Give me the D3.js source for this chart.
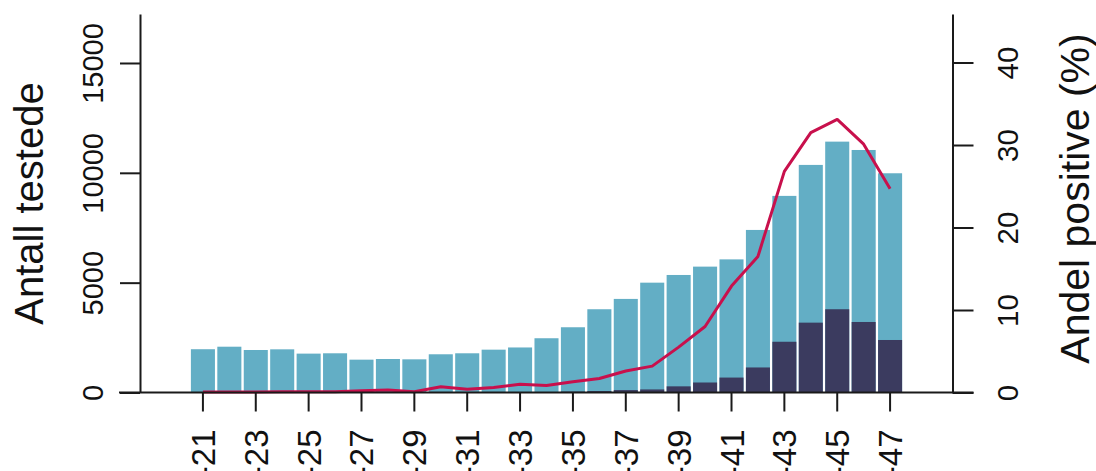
<!DOCTYPE html>
<html>
<head>
<meta charset="utf-8">
<script src="https://cdn.jsdelivr.net/npm/d3@7"></script>
<style>
  html, body { margin: 0; padding: 0; background: #ffffff; }
  svg { display: block; }
  text { font-family: "Liberation Sans", Arial, sans-serif; fill: #111; }
</style>
</head>
<body>
<svg id="chart" width="1096" height="471"></svg>
<script>
// Weekly test counts, positives and share positive
const weeks = [21, 22, 23, 24, 25, 26, 27, 28, 29, 30, 31, 32, 33, 34, 35, 36, 37, 38, 39, 40, 41, 42, 43, 44, 45, 46, 47];
const totalTested = [1970, 2085, 1935, 1965, 1770, 1785, 1495, 1525, 1510, 1740, 1785, 1950, 2050, 2470, 2970, 3790, 4260, 5000, 5350, 5730, 6060, 7400, 8950, 10360, 11420, 11040, 9980];
const positives = [4, 4, 4, 4, 4, 4, 5, 6, 4, 12, 8, 12, 20, 22, 40, 65, 110, 140, 280, 455, 680, 1140, 2310, 3180, 3790, 3210, 2390];
const positivePct = [0.05, 0.05, 0.05, 0.1, 0.1, 0.1, 0.2, 0.3, 0.1, 0.7, 0.4, 0.6, 1.0, 0.85, 1.3, 1.7, 2.6, 3.2, 5.5, 8.0, 12.9, 16.5, 26.8, 31.5, 33.1, 30.1, 24.7];

const tickWeeks = [21, 23, 25, 27, 29, 31, 33, 35, 37, 39, 41, 43, 45, 47];
const tickLabels = ["2021-21", "2021-23", "2021-25", "2021-27", "2021-29", "2021-31", "2021-33", "2021-35", "2021-37", "2021-39", "2021-41", "2021-43", "2021-45", "2021-47"];
const leftTicks = [0, 5000, 10000, 15000];
const rightTicks = [0, 10, 20, 30, 40];

const leftTitle = "Antall testede";
const rightTitle = "Andel positive (%)";

const colTotal = "#63aec5";
const colPos = "#3b3b5f";
const colLine = "#c8104c";
const colAxis = "#1a1a1a";

const svg = d3.select("#chart");

const baseY = 392.5, topY = 14;
const xAxisLeft = 140, xAxisRight = 952.5;

const x = d3.scaleBand()
  .domain(weeks)
  .range([189.7, 903.3])
  .paddingInner(0.09)
  .paddingOuter(0.045);

const yLeft = d3.scaleLinear().domain([0, 17230]).range([baseY, topY]);
const yRight = d3.scaleLinear().domain([0, 45.88]).range([baseY, topY]);

const rows = weeks.map((w, i) => ({ week: w, total: totalTested[i], pos: positives[i], pct: positivePct[i] }));

// total tested bars
svg.append("g").selectAll("rect")
  .data(rows).join("rect")
  .attr("x", d => x(d.week))
  .attr("width", x.bandwidth())
  .attr("y", d => yLeft(d.total))
  .attr("height", d => yLeft(0) - yLeft(d.total))
  .attr("fill", colTotal);

// positives bars
svg.append("g").selectAll("rect")
  .data(rows).join("rect")
  .attr("x", d => x(d.week))
  .attr("width", x.bandwidth())
  .attr("y", d => yLeft(d.pos))
  .attr("height", d => yLeft(0) - yLeft(d.pos))
  .attr("fill", colPos);

// share positive line
const line = d3.line()
  .x(d => x(d.week) + x.bandwidth() / 2)
  .y(d => yRight(d.pct));

svg.append("path")
  .datum(rows)
  .attr("d", line)
  .attr("fill", "none")
  .attr("stroke", colLine)
  .attr("stroke-width", 3)
  .attr("stroke-linejoin", "round");

// baseline
svg.append("line")
  .attr("x1", 119).attr("x2", 973.5)
  .attr("y1", baseY).attr("y2", baseY)
  .attr("stroke", colAxis).attr("stroke-width", 2);

function styleAxis(g, size) {
  g.selectAll("path.domain").attr("stroke", colAxis).attr("stroke-width", 2);
  g.selectAll(".tick line").attr("stroke", colAxis).attr("stroke-width", 2);
  g.selectAll(".tick text")
    .attr("fill", "#111")
    .style("font-size", size + "px")
    .style("font-family", '"Liberation Sans", Arial, sans-serif');
}

// left axis
const gLeft = svg.append("g")
  .attr("transform", `translate(${xAxisLeft},0)`)
  .call(d3.axisLeft(yLeft).tickValues(leftTicks).tickSize(20).tickSizeOuter(0).tickFormat(d3.format("d")));
styleAxis(gLeft, 29);
gLeft.selectAll(".tick text")
  .attr("x", 0).attr("y", 0).attr("dy", 0)
  .attr("text-anchor", "middle")
  .attr("transform", "translate(-37,0) rotate(-90)");

// right axis
const gRight = svg.append("g")
  .attr("transform", `translate(${xAxisRight},0)`)
  .call(d3.axisRight(yRight).tickValues(rightTicks).tickSize(21).tickSizeOuter(0).tickFormat(d3.format("d")));
styleAxis(gRight, 29.5);
gRight.selectAll(".tick text")
  .attr("x", 0).attr("y", 0).attr("dy", 0)
  .attr("text-anchor", "middle")
  .attr("transform", "translate(65,0) rotate(-90)");

// bottom axis (week labels run past the lower edge)
const gBottom = svg.append("g")
  .attr("transform", `translate(0,${baseY})`)
  .call(d3.axisBottom(x).tickValues(tickWeeks).tickSize(19).tickSizeOuter(0)
    .tickFormat(w => tickLabels[tickWeeks.indexOf(w)]));
gBottom.select("path.domain").remove();
styleAxis(gBottom, 33);
gBottom.selectAll(".tick text")
  .attr("x", 0).attr("y", 0).attr("dy", 0)
  .attr("text-anchor", "end")
  .attr("transform", "translate(12,37) rotate(-90)");

// axis titles
svg.append("text")
  .attr("transform", "translate(43,203.5) rotate(-90)")
  .attr("text-anchor", "middle")
  .style("font-size", "40px")
  .text(leftTitle);

svg.append("text")
  .attr("transform", "translate(1088.5,198.5) rotate(-90)")
  .attr("text-anchor", "middle")
  .style("font-size", "41px")
  .text(rightTitle);
</script>
</body>
</html>
